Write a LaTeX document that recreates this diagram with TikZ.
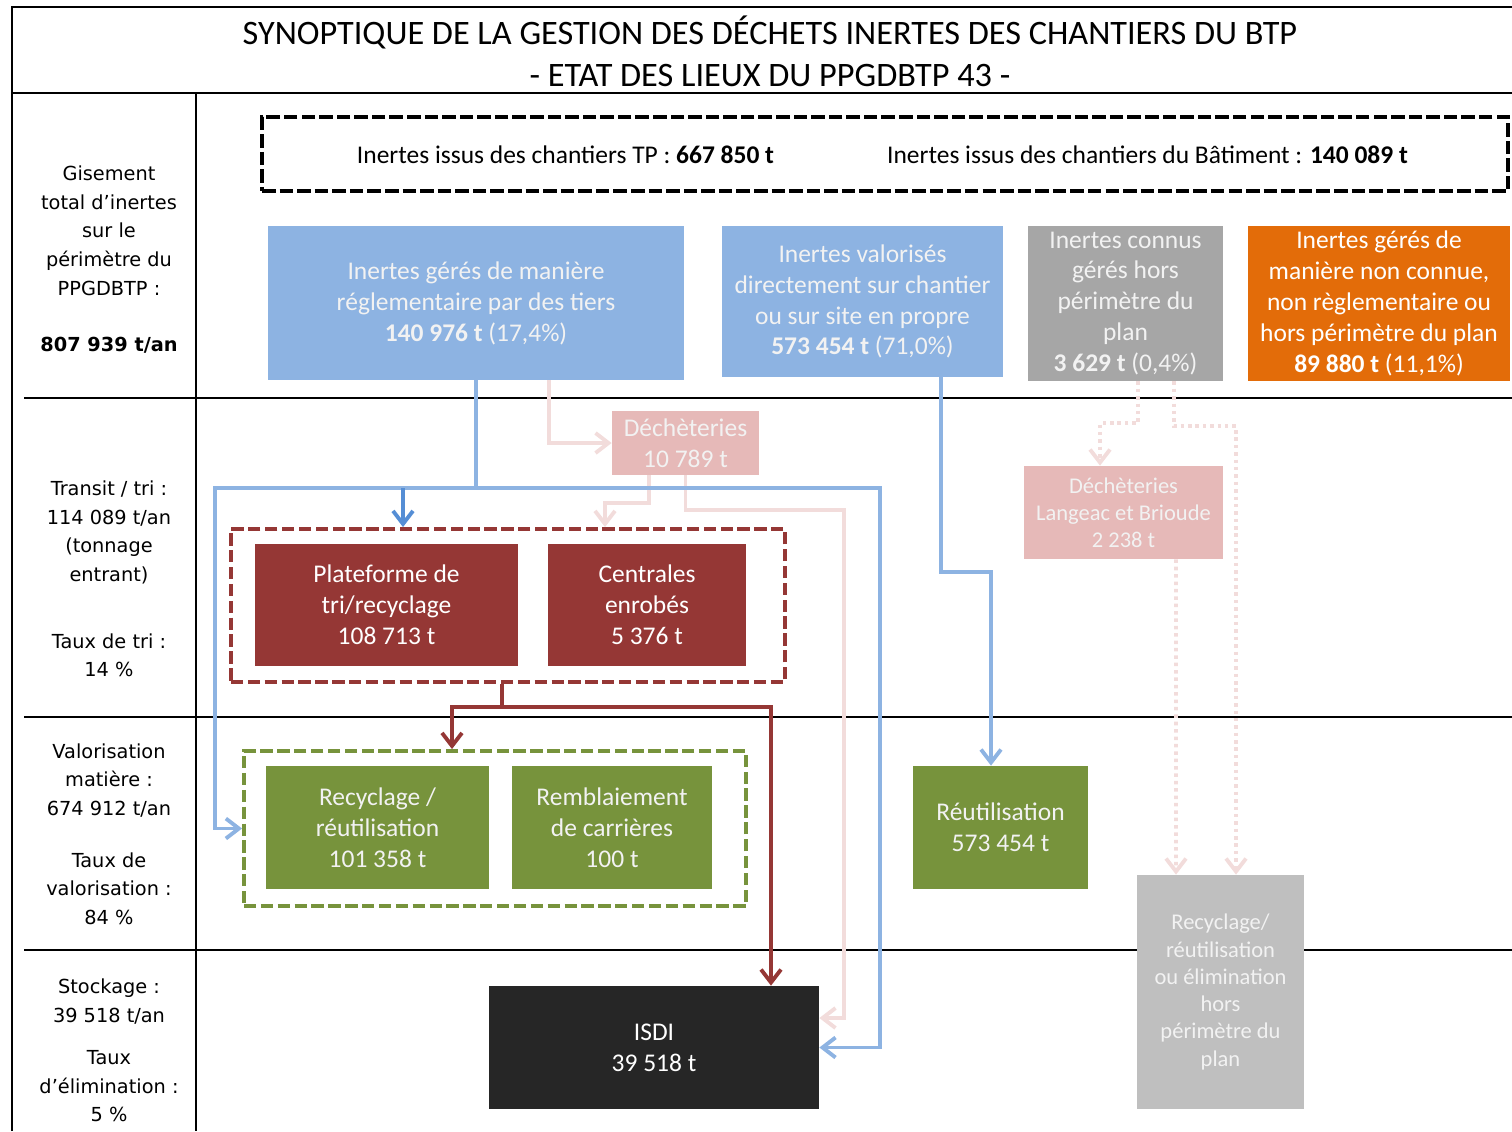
\documentclass[tikz,border=0pt]{standalone}
\usepackage{fontspec}
\setmainfont{Carlito}
\newfontfamily\tahoma{DejaVu Sans}
\usetikzlibrary{arrows.meta}

\definecolor{bleuboite}{HTML}{8DB3E2}
\definecolor{bleufonce}{HTML}{558ED5}
\definecolor{roseboite}{HTML}{E6B9B8}
\definecolor{rosetrait}{HTML}{F2DCDB}
\definecolor{rougeboite}{HTML}{953735}
\definecolor{vertboite}{HTML}{77933C}
\definecolor{grisboite}{HTML}{A6A6A6}
\definecolor{grisclair}{HTML}{BFBFBF}
\definecolor{orangeboite}{HTML}{E36C09}
\definecolor{noirboite}{HTML}{262626}
\definecolor{texteclair}{HTML}{F2F2F2}

\begin{document}
\begin{tikzpicture}[x=0.2cm, y=0.2cm,
  boite/.style={align=center, text=texteclair, font=\fontsize{14.5}{17.6}\selectfont},
  petiteboite/.style={boite, font=\fontsize{12.8}{15.5}\selectfont},
  cadre/.style={draw, line width=2.2pt, dash pattern=on 7pt off 2.6pt},
  legende/.style={align=center, font=\tahoma\fontsize{11}{16.3}\selectfont},
  fleche/.style={line width=2.2pt, -{Straight Barb[length=2.6mm,width=4mm]}},
  pointille/.style={fleche, draw=rosetrait, dash pattern=on 2pt off 2.2pt}]
  \tikzstyle{every node}+=[inner sep=0pt]
  \useasboundingbox (0,0) rectangle (151.2,-113.1);
  % cadre du tableau
  \draw [line width=1.2pt] (1.2,-113.1) -- (1.2,-0.7) -- (151.2,-0.7);
  \draw [line width=1.2pt] (1.2,-9.3) -- (151.2,-9.3);
  \draw [line width=1.2pt] (19.6,-9.3) -- (19.6,-113.1);
  \foreach \y in {39.8,71.7,95.0}
    \draw [line width=1.2pt] (2.4,-\y) -- (151.2,-\y);
  \node [align=center, font=\fontsize{19.5}{24}\selectfont] (titre) at (77,-5.1)
    {SYNOPTIQUE DE LA GESTION DES DÉCHETS INERTES DES CHANTIERS DU BTP\\- ETAT DES LIEUX DU PPGDBTP 43 -};
  % colonne de gauche
  \node [legende] (gisement) at (10.9,-25.95)
    {Gisement\\total d’inertes\\sur le\\périmètre du\\PPGDBTP :\\[15.6pt]\textbf{807 939 t/an}};
  \node [legende] (transit) at (10.9,-57.9)
    {Transit / tri :\\114 089 t/an\\(tonnage\\entrant)\\[21.7pt]Taux de tri :\\14 \%};
  \node [legende] (valorisation) at (10.9,-83.4)
    {Valorisation\\matière :\\674 912 t/an\\[13.2pt]Taux de\\valorisation :\\84 \%};
  \node [legende] (stockage) at (10.9,-105.05)
    {Stockage :\\39 518 t/an\\[7.6pt]Taux\\d’élimination :\\5 \%};
  % gisement
  \node [cadre, draw=black, line width=2.4pt, dash pattern=on 7.7pt off 2.3pt,
    minimum width=24.92cm, minimum height=1.48cm] (cadregisement) at (88.5,-15.4) {};
  \node [font=\fontsize{14.5}{17.6}\selectfont] (tp) at (56.55,-15.5)
    {Inertes issus des chantiers TP : \textbf{667 850 t}};
  \node [font=\fontsize{14.5}{17.6}\selectfont] (batiment) at (114.75,-15.5)
    {Inertes issus des chantiers du Bâtiment : \textbf{140 089 t}};
  \node [boite, fill=bleuboite, minimum width=8.32cm, minimum height=3.08cm] (tiers) at (47.6,-30.3)
    {Inertes gérés de manière\\réglementaire par des tiers\\\textbf{140 976 t} (17,4\%)};
  \node [boite, fill=bleuboite, minimum width=5.62cm, minimum height=3.02cm] (chantier) at (86.25,-30.15)
    {Inertes valorisés\\directement sur chantier\\ou sur site en propre\\\textbf{573 454 t} (71,0\%)};
  \node [boite, fill=grisboite, minimum width=3.9cm, minimum height=3.1cm] (connus) at (112.55,-30.35)
    {Inertes connus\\gérés hors\\périmètre du\\plan\\\textbf{3 629 t} (0,4\%)};
  \node [boite, fill=orangeboite, text=white, minimum width=5.24cm, minimum height=3.1cm] (nonconnus) at (137.9,-30.35)
    {Inertes gérés de\\manière non connue,\\non règlementaire ou\\hors périmètre du plan\\\textbf{89 880 t} (11,1\%)};
  % transit / tri
  \node [boite, fill=roseboite, minimum width=2.94cm, minimum height=1.28cm] (decheterie) at (68.55,-44.3)
    {Déchèteries\\10 789 t};
  \node [cadre, draw=rougeboite, minimum width=11.08cm, minimum height=3.06cm] (cadretri) at (50.8,-60.55) {};
  \node [boite, fill=rougeboite, text=white, minimum width=5.26cm, minimum height=2.44cm] (plateforme) at (38.65,-60.5)
    {Plateforme de\\tri/recyclage\\108 713 t};
  \node [boite, fill=rougeboite, text=white, minimum width=3.96cm, minimum height=2.44cm] (centrales) at (64.7,-60.5)
    {Centrales\\enrobés\\5 376 t};
  \node [petiteboite, fill=roseboite, minimum width=3.98cm, minimum height=1.86cm] (langeac) at (112.35,-51.25)
    {Déchèteries\\Langeac et Brioude\\2 238 t};
  % valorisation
  \node [cadre, draw=vertboite, minimum width=10.04cm, minimum height=3.1cm] (cadrevalo) at (49.5,-82.85) {};
  \node [boite, fill=vertboite, minimum width=4.46cm, minimum height=2.46cm] (recyclage) at (37.75,-82.75)
    {Recyclage /\\réutilisation\\101 358 t};
  \node [boite, fill=vertboite, minimum width=4cm, minimum height=2.46cm] (remblai) at (61.2,-82.75)
    {Remblaiement\\de carrières\\100 t};
  \node [boite, fill=vertboite, minimum width=3.5cm, minimum height=2.46cm] (reutil) at (100.05,-82.75)
    {Réutilisation\\573 454 t};
  \node [petiteboite, fill=grisclair, minimum width=3.34cm, minimum height=4.68cm] (horsplan) at (122.05,-99.2)
    {Recyclage/\\réutilisation\\ou élimination\\hors\\périmètre du\\plan};
  % stockage
  \node [boite, fill=noirboite, text=white, minimum width=6.6cm, minimum height=2.46cm] (isdi) at (65.4,-104.75)
    {ISDI\\39 518 t};
  % flux roses
  \coordinate (rosedroite) at (84.4,-51);
  \draw [fleche, draw=rosetrait] ([xshift=1.46cm]tiers.south) |- (decheterie.west);
  \draw [fleche, draw=rosetrait] ([xshift=-.73cm]decheterie.south) -- ++(0,-2.8) -| ([xshift=1.94cm]cadretri.north);
  \draw [fleche, draw=rosetrait] (decheterie.south) |- (rosedroite) |- ([yshift=.59cm]isdi.east);
  \draw [pointille] ([xshift=.25cm]connus.south) -- ++(0,-4.2) -| ([xshift=-.47cm]langeac.north);
  \draw [pointille] ([xshift=.97cm]connus.south) -- ++(0,-4.5) -| ([xshift=.31cm]horsplan.north);
  \draw [pointille] ([xshift=1.05cm]langeac.south) -- ([xshift=-.89cm]horsplan.north);
  % flux bleus
  \coordinate (bleugauche) at (21.5,-48.8);
  \coordinate (bleudroite) at (88,-48.8);
  \coordinate (bleutri) at (40.3,-48.8);
  \draw [fleche, draw=bleuboite] (tiers.south) |- (bleugauche) |- (cadrevalo.west);
  \draw [fleche, draw=bleuboite] (tiers.south) |- (bleudroite) |- (isdi.east);
  \draw [fleche, draw=bleufonce] (bleutri) -- (bleutri |- cadretri.north);
  \draw [fleche, draw=bleuboite] ([xshift=1.57cm]chantier.south) -- ++(0,-19.5) -| ([xshift=-.19cm]reutil.north);
  % flux rouges
  \draw [fleche, draw=rougeboite] ([xshift=-.12cm]cadretri.south) -- ++(0,-2.3) -| ([xshift=-.86cm]cadrevalo.north);
  \draw [fleche, draw=rougeboite] ([xshift=-.12cm]cadretri.south) -- ++(0,-2.3) -| ([xshift=2.34cm]isdi.north);
\end{tikzpicture}
\end{document}
